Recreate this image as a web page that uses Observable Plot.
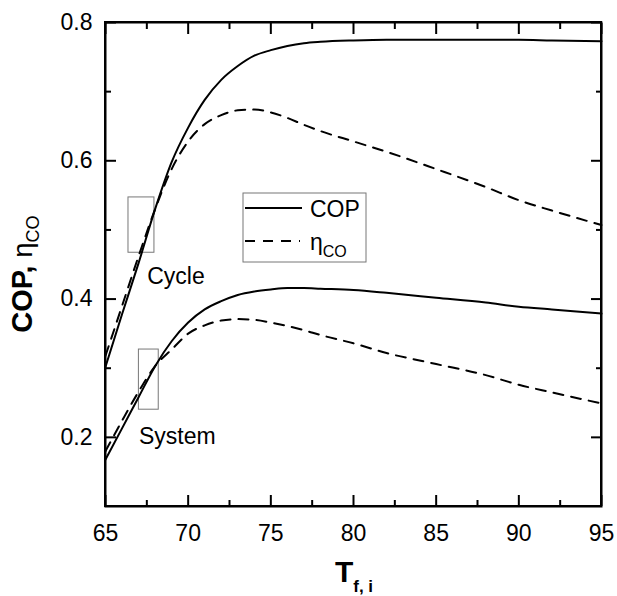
<!DOCTYPE html>
<html><head><meta charset="utf-8">
<script src="https://cdn.jsdelivr.net/npm/d3@7"></script>
<script src="https://cdn.jsdelivr.net/npm/@observablehq/plot@0.6"></script>
<style>
body{margin:0;background:#fff}
svg{display:block}
#chart{position:relative;width:617px;height:596px}
#border{position:absolute;left:104px;top:21px;width:494px;height:482px;border:2px solid #000;pointer-events:none}
</style>
</head><body><div id="chart"><div id="border"></div></div>
<script>
// Inlet temperature T_f,i
const temps = [65,66,67,68,69,70,71,72,73,74,75,76,77,78,80,82,85,88,90,92,95];
// Cycle
const cycleCOP = [0.302,0.378,0.452,0.530,0.598,0.648,0.688,0.717,0.737,0.752,0.760,0.766,0.770,0.772,0.774,0.775,0.775,0.775,0.775,0.774,0.773];
const cycleEta = [0.318,0.390,0.462,0.530,0.588,0.628,0.653,0.666,0.673,0.674,0.670,0.662,0.652,0.643,0.628,0.613,0.588,0.562,0.543,0.528,0.507];
// System
const systemCOP = [0.168,0.213,0.258,0.303,0.339,0.366,0.385,0.397,0.406,0.411,0.414,0.416,0.416,0.415,0.413,0.409,0.402,0.395,0.389,0.385,0.379];
const systemEta = [0.180,0.224,0.266,0.303,0.327,0.350,0.362,0.369,0.371,0.370,0.366,0.361,0.355,0.348,0.336,0.322,0.306,0.290,0.276,0.265,0.249];

const xDomain = [65, 95];
const yDomain = [0.1, 0.8];
const xMajor = [65,70,75,80,85,90,95];
const xMinor = [67.5,72.5,77.5,82.5,87.5,92.5];
const yMajor = [0.2,0.4,0.6,0.8];
const yMinor = [0.3,0.5,0.7];

const boxes = [
  {name:"Cycle", x1:66.39, x2:67.96, y1:0.467, y2:0.547},
  {name:"System", x1:67.02, x2:68.22, y1:0.240, y2:0.327}
];
const notes = [
  {text:"Cycle", x:67.52, y:0.422},
  {text:"System", x:67.02, y:0.191}
];

const series = [
  {key:"cycle-cop", values:cycleCOP, dashed:false},
  {key:"cycle-eta", values:cycleEta, dashed:true},
  {key:"system-cop", values:systemCOP, dashed:false},
  {key:"system-eta", values:systemEta, dashed:true}
];
const solidRows = [], dashedRows = [];
for (const s of series) {
  temps.forEach((t, i) => (s.dashed ? dashedRows : solidRows).push({key:s.key, t, v:s.values[i]}));
}

const blank = () => "";
const tk = {label: null, tickFormat: blank, strokeWidth: 2, stroke: "black"};

const svg = Plot.plot({
  width: 617, height: 596,
  marginLeft: 105, marginRight: 16, marginTop: 22, marginBottom: 90,
  style: {fontFamily: "'Liberation Sans', Arial, sans-serif", background: "white", color: "black"},
  x: {domain: xDomain},
  y: {domain: yDomain},
  marks: [
    Plot.frame({stroke:"black", strokeWidth:2}),
    Plot.axisX({...tk, anchor:"bottom", ticks:xMajor, tickSize:11, dy:-11}),
    Plot.axisX({...tk, anchor:"bottom", ticks:xMinor, tickSize:6, dy:-6}),
    Plot.axisX({...tk, anchor:"top", ticks:xMajor, tickSize:11, dy:11}),
    Plot.axisX({...tk, anchor:"top", ticks:xMinor, tickSize:6, dy:6}),
    Plot.axisY({...tk, anchor:"left", ticks:yMajor, tickSize:11, dx:11}),
    Plot.axisY({...tk, anchor:"left", ticks:yMinor, tickSize:6, dx:6}),
    Plot.axisY({...tk, anchor:"right", ticks:yMajor, tickSize:11, dx:-11}),
    Plot.axisY({...tk, anchor:"right", ticks:yMinor, tickSize:6, dx:-6}),
    Plot.axisX({anchor:"bottom", ticks: xMajor, tickSize: 0, tickPadding: 18, fontSize: 23, label: null, tickFormat: d => String(d)}),
    Plot.axisY({anchor:"left", ticks: yMajor, tickSize: 0, tickPadding: 13, fontSize: 23, label: null, tickFormat: d3.format(".1f")}),
    Plot.rect(boxes, {x1:"x1", x2:"x2", y1:"y1", y2:"y2", fill:"none", stroke:"#777", strokeWidth:1}),
    Plot.line(solidRows, {x:"t", y:"v", z:"key", curve:"monotone-x", stroke:"black", strokeWidth:2}),
    Plot.line(dashedRows, {x:"t", y:"v", z:"key", curve:"monotone-x", stroke:"black", strokeWidth:2, strokeDasharray:"10,8"}),
    Plot.text(notes, {x:"x", y:"y", text:"text", textAnchor:"start", lineAnchor:"bottom", fontSize:23, fill:"black"})
  ]
});

const chart = document.getElementById("chart");
chart.insertBefore(svg, chart.firstChild);

const ff = "'Liberation Sans', Arial, sans-serif";
const ov = d3.select(chart).append("svg")
  .attr("width", 617).attr("height", 596)
  .style("position", "absolute").style("left", "0px").style("top", "0px")
  .style("pointer-events", "none")
  .attr("font-family", ff);

const lg = ov.append("g").attr("fill", "black");
lg.append("rect").attr("x", 243).attr("y", 193).attr("width", 123).attr("height", 69)
  .attr("fill", "white").attr("stroke", "#777").attr("stroke-width", 1);
lg.append("line").attr("x1", 245).attr("x2", 302).attr("y1", 208).attr("y2", 208)
  .attr("stroke", "black").attr("stroke-width", 2);
lg.append("line").attr("x1", 245).attr("x2", 300).attr("y1", 241).attr("y2", 241)
  .attr("stroke", "black").attr("stroke-width", 2).attr("stroke-dasharray", "10,8");
lg.append("text").attr("x", 310).attr("y", 217).attr("font-size", 23).text("COP");
const le = lg.append("text").attr("x", 310).attr("y", 250).attr("font-size", 23);
le.append("tspan").text("η");
le.append("tspan").attr("font-size", 16).attr("dy", 7).text("CO");

const yl = ov.append("text").attr("fill", "black")
  .attr("text-anchor", "middle").attr("transform", "translate(32,274) rotate(-90)");
yl.append("tspan").attr("font-weight", "bold").attr("font-size", 29).text("COP, ");
yl.append("tspan").attr("font-size", 27).text("η");
yl.append("tspan").attr("font-size", 18).attr("dy", 7).text("CO");

const xl = ov.append("text").attr("fill", "black")
  .attr("font-weight", "bold").attr("text-anchor", "middle").attr("x", 354).attr("y", 582);
xl.append("tspan").attr("font-size", 30).text("T");
xl.append("tspan").attr("font-size", 17).attr("dy", 10).text("f, i");
</script>
</body></html>
